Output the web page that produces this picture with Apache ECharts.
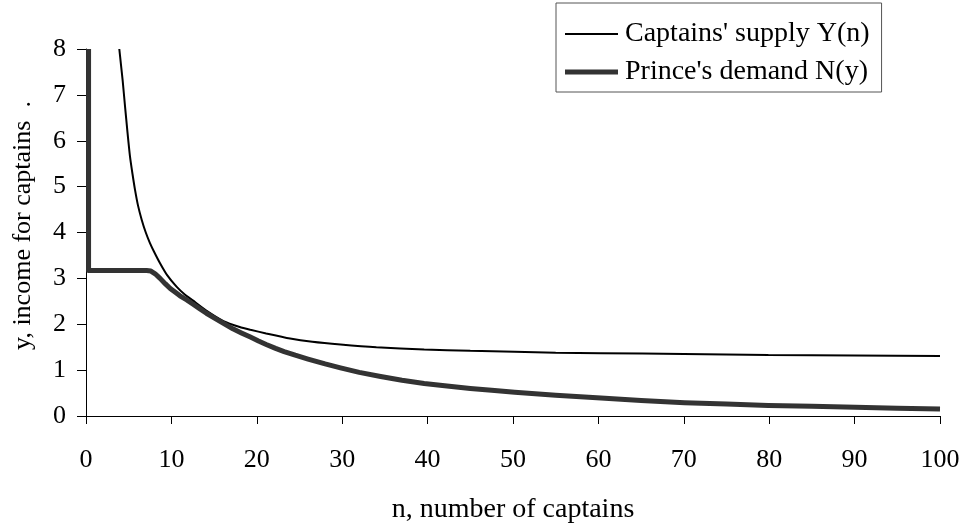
<!DOCTYPE html>
<html>
<head>
<meta charset="utf-8">
<script src="https://cdn.jsdelivr.net/npm/echarts@6/dist/echarts.min.js"></script>
<style>
html,body{margin:0;padding:0;background:#fff;}
#chart{width:962px;height:523px;}
</style>
</head>
<body>
<div id="chart"></div>
<script>
// Captains' supply Y(n): n values and y values
const supplyN = [3.9, 4.1, 4.3, 4.57, 4.85, 5.15, 5.45, 5.74, 6.1, 6.52, 7.0, 7.49, 8.0, 8.67, 9.5, 10.6, 11.5, 12.5, 14, 16.1, 18, 19.25, 21.1, 23.9, 26.5, 29.8, 34, 39.6, 45, 50.2, 55, 60.3, 70, 79.9, 90, 100];
const supplyY = [8.0, 7.65, 7.3, 6.75, 6.2, 5.66, 5.27, 4.93, 4.58, 4.28, 4.0, 3.77, 3.57, 3.33, 3.07, 2.82, 2.66, 2.52, 2.31, 2.07, 1.94, 1.88, 1.80, 1.69, 1.62, 1.56, 1.50, 1.45, 1.42, 1.40, 1.38, 1.37, 1.35, 1.33, 1.32, 1.31];
// Prince's demand N(y): n values and y values
const demandN = [0.3, 0.3, 7.1, 7.6, 8.1, 8.67, 9.3, 9.86, 10.5, 11.0, 11.8, 12.5, 13.3, 14.1, 15, 16, 17.2, 18.2, 19.25, 20.2, 21.1, 22.2, 23.2, 24.5, 26, 28, 29.8, 32, 34.5, 37, 39.6, 42, 45, 47.5, 50.2, 55, 60.3, 65, 70.1, 75, 79.9, 85, 90.1, 95, 100];
const demandY = [8.0, 3.17, 3.17, 3.16, 3.10, 3.00, 2.88, 2.78, 2.69, 2.62, 2.53, 2.44, 2.34, 2.24, 2.14, 2.03, 1.90, 1.81, 1.72, 1.635, 1.56, 1.475, 1.405, 1.325, 1.24, 1.135, 1.05, 0.95, 0.86, 0.78, 0.71, 0.66, 0.60, 0.56, 0.52, 0.45, 0.39, 0.34, 0.29, 0.26, 0.23, 0.21, 0.19, 0.17, 0.15];
const xTicks = {min: 0, max: 100, interval: 10};
const yTicks = {min: 0, max: 8, interval: 1};
const seriesNames = ["Captains' supply Y(n)", "Prince's demand N(y)"];
const axisNames = ['n, number of captains', 'y, income for captains  .'];

const FONT = 'Liberation Serif';
const zip = (a, b) => a.map((v, i) => [v, b[i]]);

const chart = echarts.init(document.getElementById('chart'));
chart.setOption({
  animation: false,
  backgroundColor: '#ffffff',
  grid: {left: 86, right: 22, top: 49, bottom: 107, containLabel: false, outerBoundsMode: 'none'},
  legend: {
    left: 556, top: 3,
    orient: 'vertical',
    padding: [17, 12, 6, 9],
    itemGap: 10,
    itemWidth: 53,
    itemHeight: 14,
    symbolKeepAspect: true,
    borderColor: '#555',
    borderWidth: 1,
    borderRadius: 0,
    textStyle: {fontFamily: FONT, fontSize: 28, color: '#000', padding: [0, 0, 0, 2]},
    data: [
      {name: seriesNames[0], icon: 'path://M0,0L53,0L53,2L0,2Z', itemStyle: {color: '#000'}},
      {name: seriesNames[1], icon: 'path://M0,0L53,0L53,5L0,5Z', itemStyle: {color: '#333'}}
    ]
  },
  xAxis: {
    type: 'value',
    min: xTicks.min, max: xTicks.max, interval: xTicks.interval,
    name: axisNames[0], nameLocation: 'middle', nameGap: 80,
    nameTextStyle: {fontFamily: FONT, fontSize: 28, color: '#000'},
    axisLine: {show: true, lineStyle: {color: '#000', width: 1}},
    axisTick: {show: true, inside: false, length: 8, lineStyle: {color: '#000'}},
    axisLabel: {fontFamily: FONT, fontSize: 26, color: '#000', margin: 31},
    splitLine: {show: false}
  },
  yAxis: {
    type: 'value',
    min: yTicks.min, max: yTicks.max, interval: yTicks.interval,
    name: axisNames[1], nameLocation: 'middle', nameGap: 50, nameRotate: 90,
    nameTextStyle: {fontFamily: FONT, fontSize: 26, color: '#000', padding: [0, 0, 0, 14]},
    axisLine: {show: true, lineStyle: {color: '#000', width: 1}},
    axisTick: {show: true, inside: false, length: 9, lineStyle: {color: '#000'}},
    axisLabel: {fontFamily: FONT, fontSize: 26, color: '#000', margin: 20},
    splitLine: {show: false}
  },
  series: [
    {
      name: seriesNames[0], type: 'line', data: zip(supplyN, supplyY),
      symbol: 'none', smooth: 0.2, clip: false,
      lineStyle: {color: '#000', width: 2},
      itemStyle: {color: '#000'}
    },
    {
      name: seriesNames[1], type: 'line', data: zip(demandN, demandY),
      symbol: 'none', smooth: false, clip: false,
      lineStyle: {color: '#333', width: 5, join: 'round'},
      itemStyle: {color: '#333'}
    }
  ]
});
</script>
</body>
</html>
